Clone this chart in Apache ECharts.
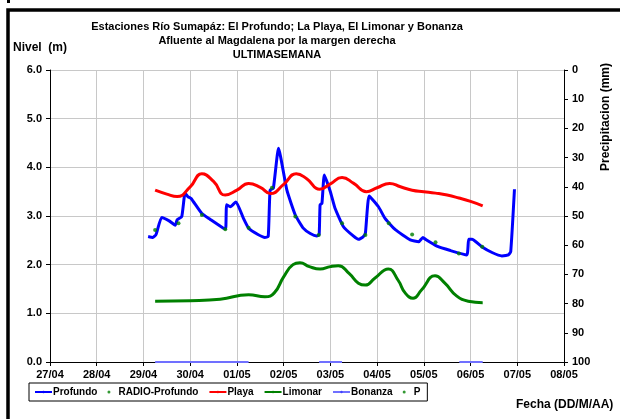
<!DOCTYPE html>
<html>
<head>
<meta charset="utf-8">
<script src="https://cdn.jsdelivr.net/npm/echarts@6/dist/echarts.min.js"></script>
<style>
  html, body { margin: 0; padding: 0; background: #fff; }
  #chart { width: 620px; height: 419px; }
</style>
</head>
<body>
<div id="chart"></div>
<script>
// dias contados desde 27/04 00:00
var fechas = ['27/04', '28/04', '29/04', '30/04', '01/05', '02/05', '03/05', '04/05', '05/05', '06/05', '07/05', '08/05'];
var nivelTicks = ['0.0', '1.0', '2.0', '3.0', '4.0', '5.0', '6.0'];

var profundoDias = [2.10, 2.20, 2.27, 2.39, 2.55, 2.68, 2.72, 2.82, 2.89, 2.95, 3.02, 3.25, 3.43, 3.71, 3.76, 3.78, 3.86, 3.98,
  4.14, 4.25, 4.45, 4.60, 4.67, 4.71, 4.78, 4.89, 5.07, 5.25, 5.42, 5.57, 5.71, 5.76, 5.78, 5.82, 5.87,
  6.00, 6.10, 6.28, 6.49, 6.60, 6.70, 6.75, 6.83, 7.03, 7.17, 7.39, 7.71, 7.89, 7.98, 8.05, 8.28, 8.57,
  8.92, 8.96, 9.03, 9.24, 9.46, 9.67, 9.81, 9.86, 9.94];
var profundoNivel = [2.58, 2.56, 2.62, 2.97, 2.90, 2.81, 2.92, 2.99, 3.47, 3.40, 3.36, 3.05, 2.93, 2.75, 2.74, 3.23, 3.19, 3.29,
  2.95, 2.75, 2.62, 2.56, 2.58, 3.53, 3.57, 4.39, 3.53, 3.02, 2.75, 2.64, 2.59, 2.62, 3.23, 3.26, 3.84,
  3.50, 3.16, 2.78, 2.59, 2.52, 2.57, 2.65, 3.41, 3.19, 2.95, 2.72, 2.51, 2.47, 2.56, 2.51, 2.38, 2.29,
  2.20, 2.52, 2.52, 2.37, 2.25, 2.18, 2.20, 2.27, 3.55];

var radioDias = [2.25, 2.75, 3.25, 3.75, 4.25, 4.75, 5.25, 5.75, 6.25, 6.75, 7.25, 7.75, 8.25, 8.75, 9.25];
var radioNivel = [2.71, 2.85, 3.02, 2.73, 2.76, 3.58, 2.99, 2.61, 2.85, 2.61, 2.85, 2.62, 2.46, 2.23, 2.37];

var playaDias = [2.25, 2.5, 2.72, 3.0, 3.25, 3.5, 3.75, 4.0, 4.25, 4.5, 4.72, 5.0, 5.27, 5.5, 5.77, 6.0, 6.25, 6.5, 6.77,
  7.0, 7.27, 7.5, 7.75, 8.0, 8.25, 8.5, 8.75, 9.0, 9.26];
var playaNivel = [3.53, 3.45, 3.40, 3.60, 3.87, 3.71, 3.43, 3.53, 3.67, 3.59, 3.46, 3.65, 3.87, 3.76, 3.55, 3.66, 3.79, 3.67, 3.50,
  3.58, 3.67, 3.60, 3.53, 3.50, 3.47, 3.43, 3.37, 3.30, 3.21];

var limonarDias = [2.25, 3.0, 3.64, 4.25, 4.6, 4.8, 5.0, 5.2, 5.35, 5.55, 5.78, 6.0, 6.17, 6.4, 6.6, 6.75, 6.95, 7.24,
  7.45, 7.6, 7.77, 7.95, 8.24, 8.45, 8.7, 8.95, 9.26];
var limonarNivel = [1.25, 1.26, 1.29, 1.38, 1.34, 1.42, 1.75, 2.00, 2.04, 1.96, 1.91, 1.96, 1.98, 1.82, 1.62, 1.58, 1.72, 1.91,
  1.68, 1.42, 1.31, 1.48, 1.77, 1.62, 1.36, 1.25, 1.22];

var bonanzaDias = [2.25, 4.25, 5.0, 5.76, 6.25, 7.5, 8.76, 9.26];
var bonanzaNivel = [0, 0, '-', 0, 0, '-', 0, 0];

var pDias = [];
var pLluvia = [];

function pares(xs, ys) {
  return xs.map(function (x, i) { return [x, ys[i]]; });
}

var chart = echarts.init(document.getElementById('chart'));
var fuente = 'Liberation Sans, Arial, sans-serif';

var option = {
  backgroundColor: '#fff',
  animation: false,
  textStyle: { fontFamily: fuente },
  title: {
    text: 'Estaciones Río Sumapáz: El Profundo; La Playa, El Limonar y Bonanza\nAfluente al Magdalena por la margen derecha\nULTIMASEMANA',
    left: 272,
    top: 15,
    textAlign: 'center',
    textStyle: { fontSize: 11, fontWeight: 'bold', color: '#000', lineHeight: 14, fontFamily: fuente }
  },
  grid: { left: 50, right: 56, top: 70, bottom: 57 },
  legend: {
    left: 29,
    top: 383,
    width: 560,
    padding: [4, 7, 4, 5],
    borderColor: '#000',
    borderWidth: 1,
    itemGap: 10,
    itemWidth: 17,
    itemHeight: 3,
    textStyle: { fontSize: 10, fontWeight: 'bold', color: '#000', fontFamily: fuente, padding: [0, 0, 0, -4] },
    data: ['Profundo', 'RADIO-Profundo', 'Playa', 'Limonar', 'Bonanza', 'P']
  },
  xAxis: {
    type: 'value',
    min: 0,
    max: 11,
    interval: 1,
    axisLine: { lineStyle: { color: '#000', width: 1 } },
    axisTick: { length: 4, lineStyle: { color: '#000' } },
    axisLabel: {
      margin: 7,
      fontSize: 11,
      fontWeight: 'bold',
      color: '#000',
      formatter: function (v) { return fechas[Math.round(v)]; }
    },
    splitLine: { lineStyle: { color: '#c8c8c8', width: 1 } }
  },
  yAxis: [
    {
      type: 'value',
      min: 0,
      max: 6,
      interval: 1,
      axisLine: { show: true, lineStyle: { color: '#000' } },
      axisTick: { show: true, length: 4, lineStyle: { color: '#000' } },
      axisLabel: {
        margin: 8,
        fontSize: 11,
        fontWeight: 'bold',
        color: '#000',
        formatter: function (v) { return nivelTicks[Math.round(v)]; }
      },
      splitLine: { lineStyle: { color: '#c8c8c8', width: 1 } }
    },
    {
      type: 'value',
      min: 0,
      max: 100,
      interval: 10,
      inverse: true,
      position: 'right',
      axisLine: { show: true, lineStyle: { color: '#000' } },
      axisTick: { show: true, length: 4, lineStyle: { color: '#000' } },
      axisLabel: { margin: 8, fontSize: 11, fontWeight: 'bold', color: '#000' },
      splitLine: { show: false }
    }
  ],
  graphic: [
    {
      type: 'rect',
      shape: { x: 8, y: 10, width: 700, height: 500 },
      style: { fill: 'none', stroke: '#000', lineWidth: 3.5 },
      z: 100
    },
    {
      type: 'rect',
      shape: { x: 7, y: 0, width: 3, height: 3 },
      style: { fill: '#000' }
    },
    {
      type: 'text',
      left: 13,
      top: 42,
      style: { text: 'Nivel  (m)', font: 'bold 12px ' + fuente, fill: '#000' }
    },
    {
      type: 'text',
      x: 606,
      y: 117,
      rotation: Math.PI / 2,
      style: { text: 'Precipitacion (mm)', font: 'bold 12px ' + fuente, fill: '#000', align: 'center', verticalAlign: 'middle' }
    },
    {
      type: 'text',
      left: 516,
      top: 399,
      style: { text: 'Fecha (DD/M/AA)', font: 'bold 12px ' + fuente, fill: '#000' }
    }
  ],
  series: [
    {
      name: 'Profundo',
      type: 'line',
      data: pares(profundoDias, profundoNivel),
      symbol: 'none',
      smooth: 0.15,
      color: '#0000ff',
      lineStyle: { color: '#0000ff', width: 3 },
      z: 3
    },
    {
      name: 'RADIO-Profundo',
      type: 'scatter',
      data: pares(radioDias, radioNivel),
      symbol: 'circle',
      symbolSize: 4,
      color: '#008000',
      itemStyle: { color: '#008000' },
      z: 6
    },
    {
      name: 'Playa',
      type: 'line',
      data: pares(playaDias, playaNivel),
      symbol: 'none',
      smooth: 0.5,
      color: '#ff0000',
      lineStyle: { color: '#ff0000', width: 3 },
      z: 4
    },
    {
      name: 'Limonar',
      type: 'line',
      data: pares(limonarDias, limonarNivel),
      symbol: 'none',
      smooth: 0.5,
      color: '#008000',
      lineStyle: { color: '#008000', width: 3 },
      z: 4
    },
    {
      name: 'Bonanza',
      type: 'line',
      data: pares(bonanzaDias, bonanzaNivel),
      symbol: 'none',
      connectNulls: false,
      color: '#4040ff',
      lineStyle: { color: '#7070ff', width: 2 },
      z: 5
    },
    {
      name: 'P',
      type: 'scatter',
      yAxisIndex: 1,
      data: pares(pDias, pLluvia),
      symbolSize: 4,
      color: '#008000',
      itemStyle: { color: '#008000' }
    }
  ]
};

chart.setOption(option);
</script>
</body>
</html>
